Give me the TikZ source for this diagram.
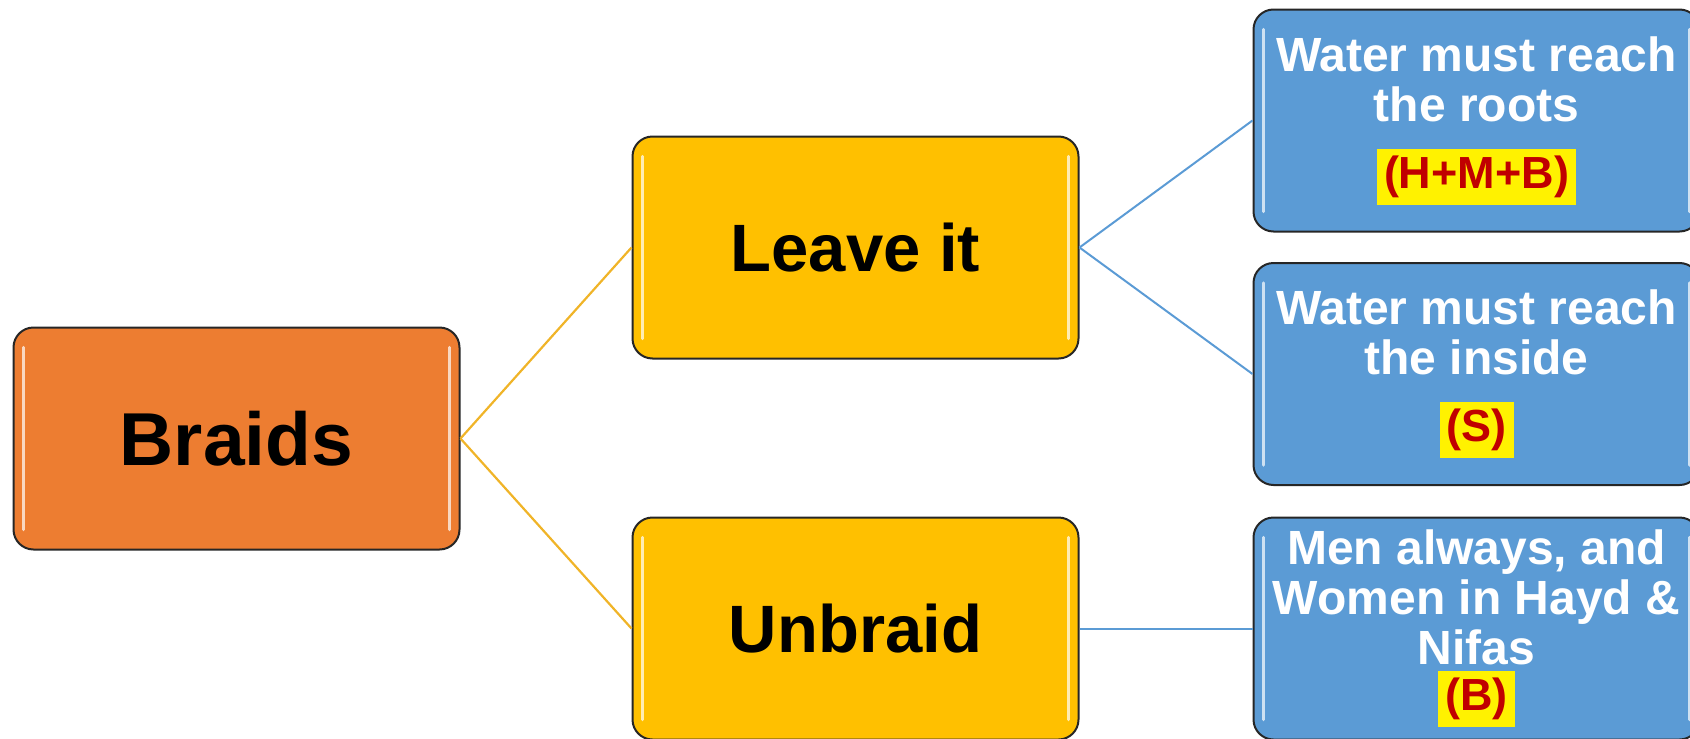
\documentclass[tikz,border=0pt]{standalone}
\usepackage{fontspec}
\setmainfont{Liberation Sans}
\definecolor{braidorange}{HTML}{ED7D31}
\definecolor{choicegold}{HTML}{FFC000}
\definecolor{ruleblue}{HTML}{5B9BD5}
\definecolor{linegold}{HTML}{F0B428}
\definecolor{tagred}{HTML}{C00000}
\newcommand\redtag[1]{{\fontsize{45}{50}\selectfont\setlength\fboxsep{7pt}\colorbox{yellow}{\textcolor{tagred}{#1}}}}
\begin{document}
\begin{tikzpicture}[x=1pt,y=-1pt,
    gloss/.style={path picture={
        \draw[white, opacity=.7, line width=3.5pt, line cap=round]
            ([xshift=10pt,yshift=-20pt]path picture bounding box.north west)--([xshift=10pt,yshift=20pt]path picture bounding box.south west)
            ([xshift=-10pt,yshift=-20pt]path picture bounding box.north east)--([xshift=-10pt,yshift=20pt]path picture bounding box.south east);}},
    box/.style={draw=black!85, line width=2pt, rounded corners=20pt, minimum width=446pt, minimum height=222pt, inner sep=0pt, align=center, gloss},
    rootbox/.style={box, fill=braidorange, font=\bfseries\fontsize{75}{80}\selectfont},
    choicebox/.style={box, fill=choicegold, font=\bfseries\fontsize{67}{70}\selectfont},
    rulebox/.style={box, fill=ruleblue, text=white, font=\bfseries\fontsize{48}{50}\selectfont},
    goldline/.style={draw=linegold, line width=2.2pt},
    blueline/.style={draw=ruleblue, line width=2pt}]
    \useasboundingbox (0,0) rectangle (1690,739);
    % tree of boxes
    \node[rootbox] (braids) at (236.5,438.5) {Braids};
    \node[choicebox] (leave) at (855.5,247.5) {Leave it};
    \node[choicebox] (unbraid) at (855.5,628.5) {Unbraid};
    \node[rulebox] (roots) at (1476.5,120.5) {Water must reach\\the roots\\[17pt]\redtag{(H+M+B)}};
    \node[rulebox] (inside) at (1476.5,374) {Water must reach\\the inside\\[17pt]\redtag{(S)}};
    \node[rulebox] (always) at (1476.5,628.5) {Men always, and\\Women in Hayd \&\\Nifas\\[-4.5pt]\redtag{(B)}};
    % connectors
    \draw[goldline] (braids.east)--(leave.west);
    \draw[goldline] (braids.east)--(unbraid.west);
    \draw[blueline] (leave.east)--(roots.west);
    \draw[blueline] (leave.east)--(inside.west);
    \draw[blueline] (unbraid.east)--(always.west);
\end{tikzpicture}
\end{document}
